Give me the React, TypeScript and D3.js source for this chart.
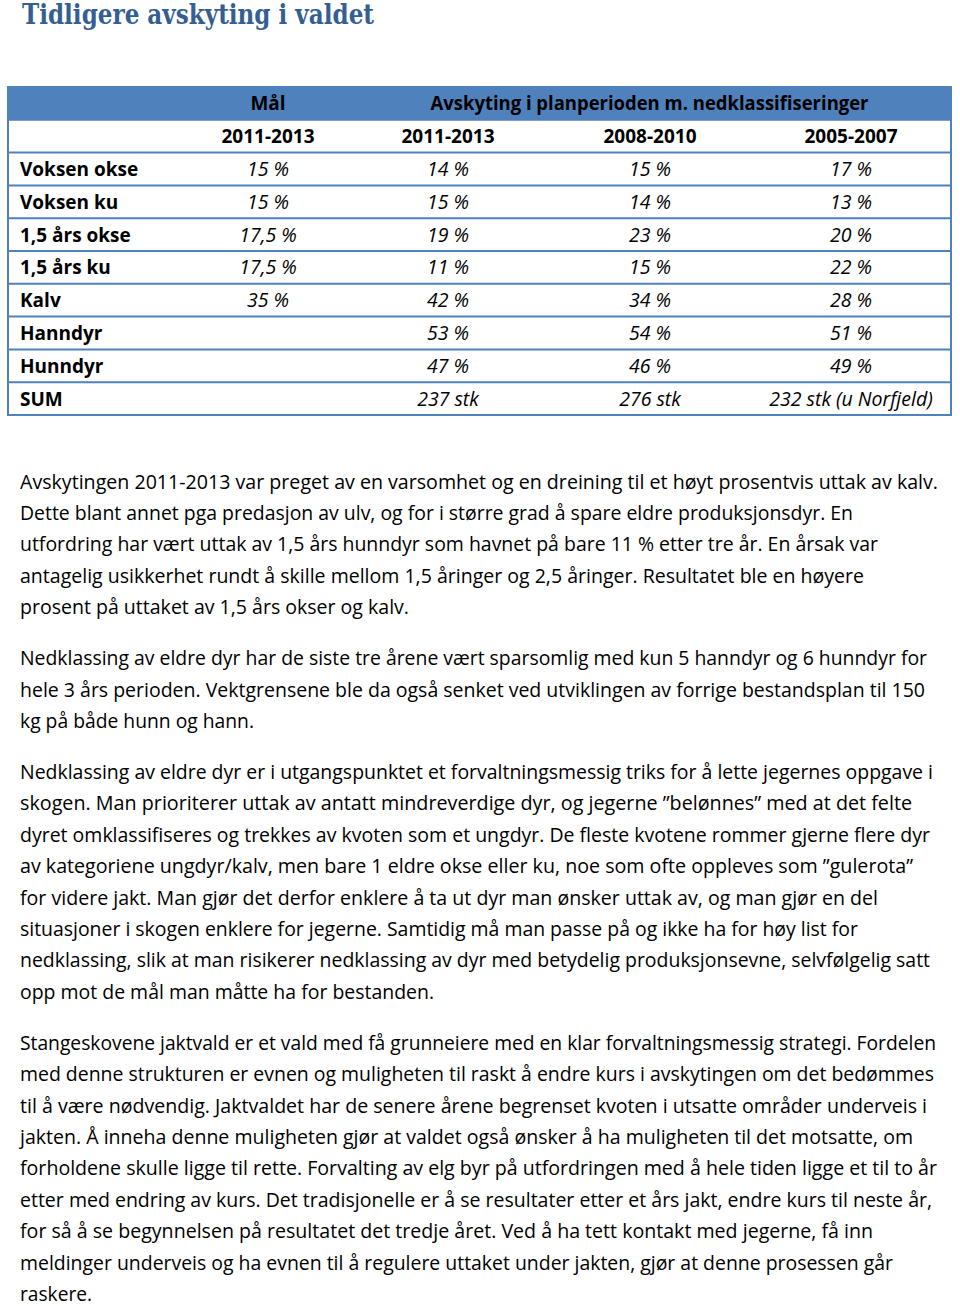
import React from 'react';
import * as d3 from 'd3';

const title = 'Tidligere avskyting i valdet';

const groupLabels = ['Mål', 'Avskyting i planperioden m. nedklassifiseringer'];
const periodLabels = ['2011-2013', '2011-2013', '2008-2010', '2005-2007'];
const columnKeys = ['goal', 'h2011', 'h2008', 'h2005'];

const rowLabels = ['Voksen okse', 'Voksen ku', '1,5 års okse', '1,5 års ku', 'Kalv', 'Hanndyr', 'Hunndyr', 'SUM'];
const goalValues = ['15 %', '15 %', '17,5 %', '17,5 %', '35 %', '', '', ''];
const harvest2011 = ['14 %', '15 %', '19 %', '11 %', '42 %', '53 %', '47 %', '237 stk'];
const harvest2008 = ['15 %', '14 %', '23 %', '15 %', '34 %', '54 %', '46 %', '276 stk'];
const harvest2005 = ['17 %', '13 %', '20 %', '22 %', '28 %', '51 %', '49 %', '232 stk (u Norfjeld)'];

const paragraphs = [
  [
    'Avskytingen 2011-2013 var preget av en varsomhet og en dreining til et høyt prosentvis uttak av kalv.',
    'Dette blant annet pga predasjon av ulv, og for i større grad å spare eldre produksjonsdyr. En',
    'utfordring har vært uttak av 1,5 års hunndyr som havnet på bare 11 % etter tre år. En årsak var',
    'antagelig usikkerhet rundt å skille mellom 1,5 åringer og 2,5 åringer. Resultatet ble en høyere',
    'prosent på uttaket av 1,5 års okser og kalv.',
  ],
  [
    'Nedklassing av eldre dyr har de siste tre årene vært sparsomlig med kun 5 hanndyr og 6 hunndyr for',
    'hele 3 års perioden. Vektgrensene ble da også senket ved utviklingen av forrige bestandsplan til 150',
    'kg på både hunn og hann.',
  ],
  [
    'Nedklassing av eldre dyr er i utgangspunktet et forvaltningsmessig triks for å lette jegernes oppgave i',
    'skogen. Man prioriterer uttak av antatt mindreverdige dyr, og jegerne ”belønnes” med at det felte',
    'dyret omklassifiseres og trekkes av kvoten som et ungdyr. De fleste kvotene rommer gjerne flere dyr',
    'av kategoriene ungdyr/kalv, men bare 1 eldre okse eller ku, noe som ofte oppleves som ”gulerota”',
    'for videre jakt. Man gjør det derfor enklere å ta ut dyr man ønsker uttak av, og man gjør en del',
    'situasjoner i skogen enklere for jegerne. Samtidig må man passe på og ikke ha for høy list for',
    'nedklassing, slik at man risikerer nedklassing av dyr med betydelig produksjonsevne, selvfølgelig satt',
    'opp mot de mål man måtte ha for bestanden.',
  ],
  [
    'Stangeskovene jaktvald er et vald med få grunneiere med en klar forvaltningsmessig strategi. Fordelen',
    'med denne strukturen er evnen og muligheten til raskt å endre kurs i avskytingen om det bedømmes',
    'til å være nødvendig. Jaktvaldet har de senere årene begrenset kvoten i utsatte områder underveis i',
    'jakten. Å inneha denne muligheten gjør at valdet også ønsker å ha muligheten til det motsatte, om',
    'forholdene skulle ligge til rette. Forvalting av elg byr på utfordringen med å hele tiden ligge et til to år',
    'etter med endring av kurs. Det tradisjonelle er å se resultater etter et års jakt, endre kurs til neste år,',
    'for så å se begynnelsen på resultatet det tredje året. Ved å ha tett kontakt med jegerne, få inn',
    'meldinger underveis og ha evnen til å regulere uttaket under jakten, gjør at denne prosessen går',
    'raskere.',
  ],
];

// right edge of each wrapped line, as laid out in the page
const lineEnds = [
  [938, 853, 878, 864, 409],
  [927, 925, 254],
  [933, 912, 930, 913, 878, 858, 930, 434],
  [936, 934, 927, 913, 937, 932, 873, 893, 92],
];

const W = 960;
const H = 1306;
const blue = '#4f81bd';
const font = "'Open Sans', 'DejaVu Sans', sans-serif";

export default function App() {
  const columns = [goalValues, harvest2011, harvest2008, harvest2005];

  const y = d3.scaleBand<string>()
    .domain(['group', 'period', ...rowLabels])
    .range([87, 415])
    .paddingInner(0)
    .paddingOuter(0);

  const x = d3.scaleOrdinal<string, number>()
    .domain(columnKeys)
    .range([268, 448, 650, 851]);

  const left = 8, right = 951;
  const mid = (k: string) => (y(k) as number) + y.bandwidth() / 2;

  const linePitch = 31.4;
  const paraStep = 51;
  let baseline = 488.5;
  const textLines: { text: string; y: number; end: number }[] = [];
  paragraphs.forEach((p, pi) => {
    p.forEach((line, li) => {
      textLines.push({ text: line, y: baseline, end: lineEnds[pi][li] });
      if (li < p.length - 1) baseline += linePitch;
    });
    baseline += paraStep;
  });

  return (
    <svg width={W} height={H} style={{ position: 'absolute', left: 0, top: 0, background: '#fff' }}>
      <rect width={W} height={H} fill="#fff" />

      <text x={22} y={24} fontFamily="'DejaVu Serif', serif" fontWeight="bold" fontSize={27}
        fill="#365f91" textLength={352} lengthAdjust="spacingAndGlyphs">{title}</text>

      {/* header band */}
      <rect x={left} y={y('group')} width={right - left} height={y.bandwidth()} fill={blue} />

      {/* row rules */}
      {y.domain().slice(1).map(k => (
        <line key={k} x1={left} x2={right} y1={y(k)} y2={y(k)} stroke={blue} strokeWidth={2} />
      ))}
      <rect x={left} y={y('group')} width={right - left} height={415 - 87}
        fill="none" stroke={blue} strokeWidth={2} />

      <g fontFamily={font} fontSize={19} fill="#000">
        <text x={x('goal')} y={mid('group') + 7} textAnchor="middle" fontWeight="bold">{groupLabels[0]}</text>
        <text x={(x('h2011') + x('h2005')) / 2} y={mid('group') + 7} textAnchor="middle" fontWeight="bold"
          textLength={438} lengthAdjust="spacingAndGlyphs">{groupLabels[1]}</text>
        {columnKeys.map((k, i) => (
          <text key={k} x={x(k)} y={mid('period') + 7} textAnchor="middle" fontWeight="bold">{periodLabels[i]}</text>
        ))}
        {rowLabels.map((r, ri) => (
          <g key={r}>
            <text x={20} y={mid(r) + 7} fontWeight="bold">{r}</text>
            {columnKeys.map((k, ci) => (
              <text key={k} x={x(k)} y={mid(r) + 7} textAnchor="middle" fontStyle="italic" fontSize={19.5}>{columns[ci][ri]}</text>
            ))}
          </g>
        ))}
      </g>

      <g fontFamily={font} fontSize={19.5} fill="#000">
        {textLines.map((l, i) => (
          <text key={i} x={20} y={l.y} textLength={l.end - 20} lengthAdjust="spacingAndGlyphs">{l.text}</text>
        ))}
      </g>
    </svg>
  );
}
